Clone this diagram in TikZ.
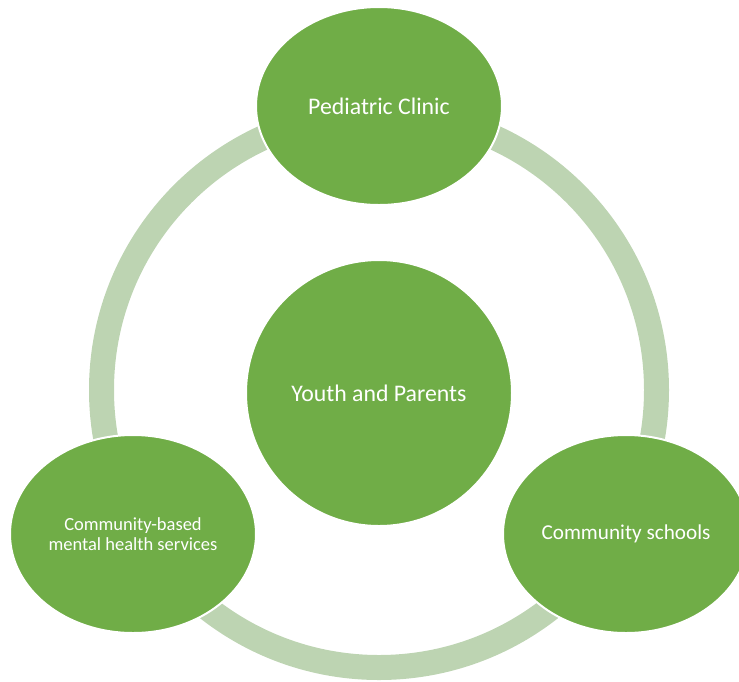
\documentclass[tikz,border=0pt]{standalone}
\usepackage{fontspec}
\setmainfont{Carlito}
\usetikzlibrary{shapes.geometric}
\definecolor{hubgreen}{RGB}{112,173,71}
\definecolor{ringgreen}{RGB}{189,212,178}
\tikzset{
  bubble/.style={ellipse, fill=hubgreen, draw=white, line width=2pt,
    inner sep=0pt, text=white, align=center},
  ring/.style={draw=ringgreen, line width=25pt}
}
\begin{document}
\begin{tikzpicture}[x=1pt,y=-1pt]
  \useasboundingbox (0,0) rectangle (739,681);
  \clip (0,0) rectangle (739,681);
  % connecting ring behind the three outer bubbles
  \coordinate (hub) at (379,390);
  \draw[ring] (hub) circle[radius=277.5pt];
  % outer bubbles
  \node[bubble, minimum width=246pt, minimum height=198pt, font=\fontsize{23.8}{28}\selectfont]
    (clinic) at (379,106) {Pediatric Clinic};
  \node[bubble, minimum width=246pt, minimum height=198pt, font=\fontsize{21.2}{25}\selectfont]
    (schools) at (626,534) {Community schools};
  \node[bubble, minimum width=246pt, minimum height=198pt, font=\fontsize{18.5}{20.5}\selectfont]
    (mental) at (133,534) {Community-based\\mental health services};
  % central bubble
  \node[bubble, minimum width=266pt, minimum height=266pt, font=\fontsize{23.8}{28}\selectfont]
    (youth) at (379,393) {Youth and Parents};
\end{tikzpicture}
\end{document}
